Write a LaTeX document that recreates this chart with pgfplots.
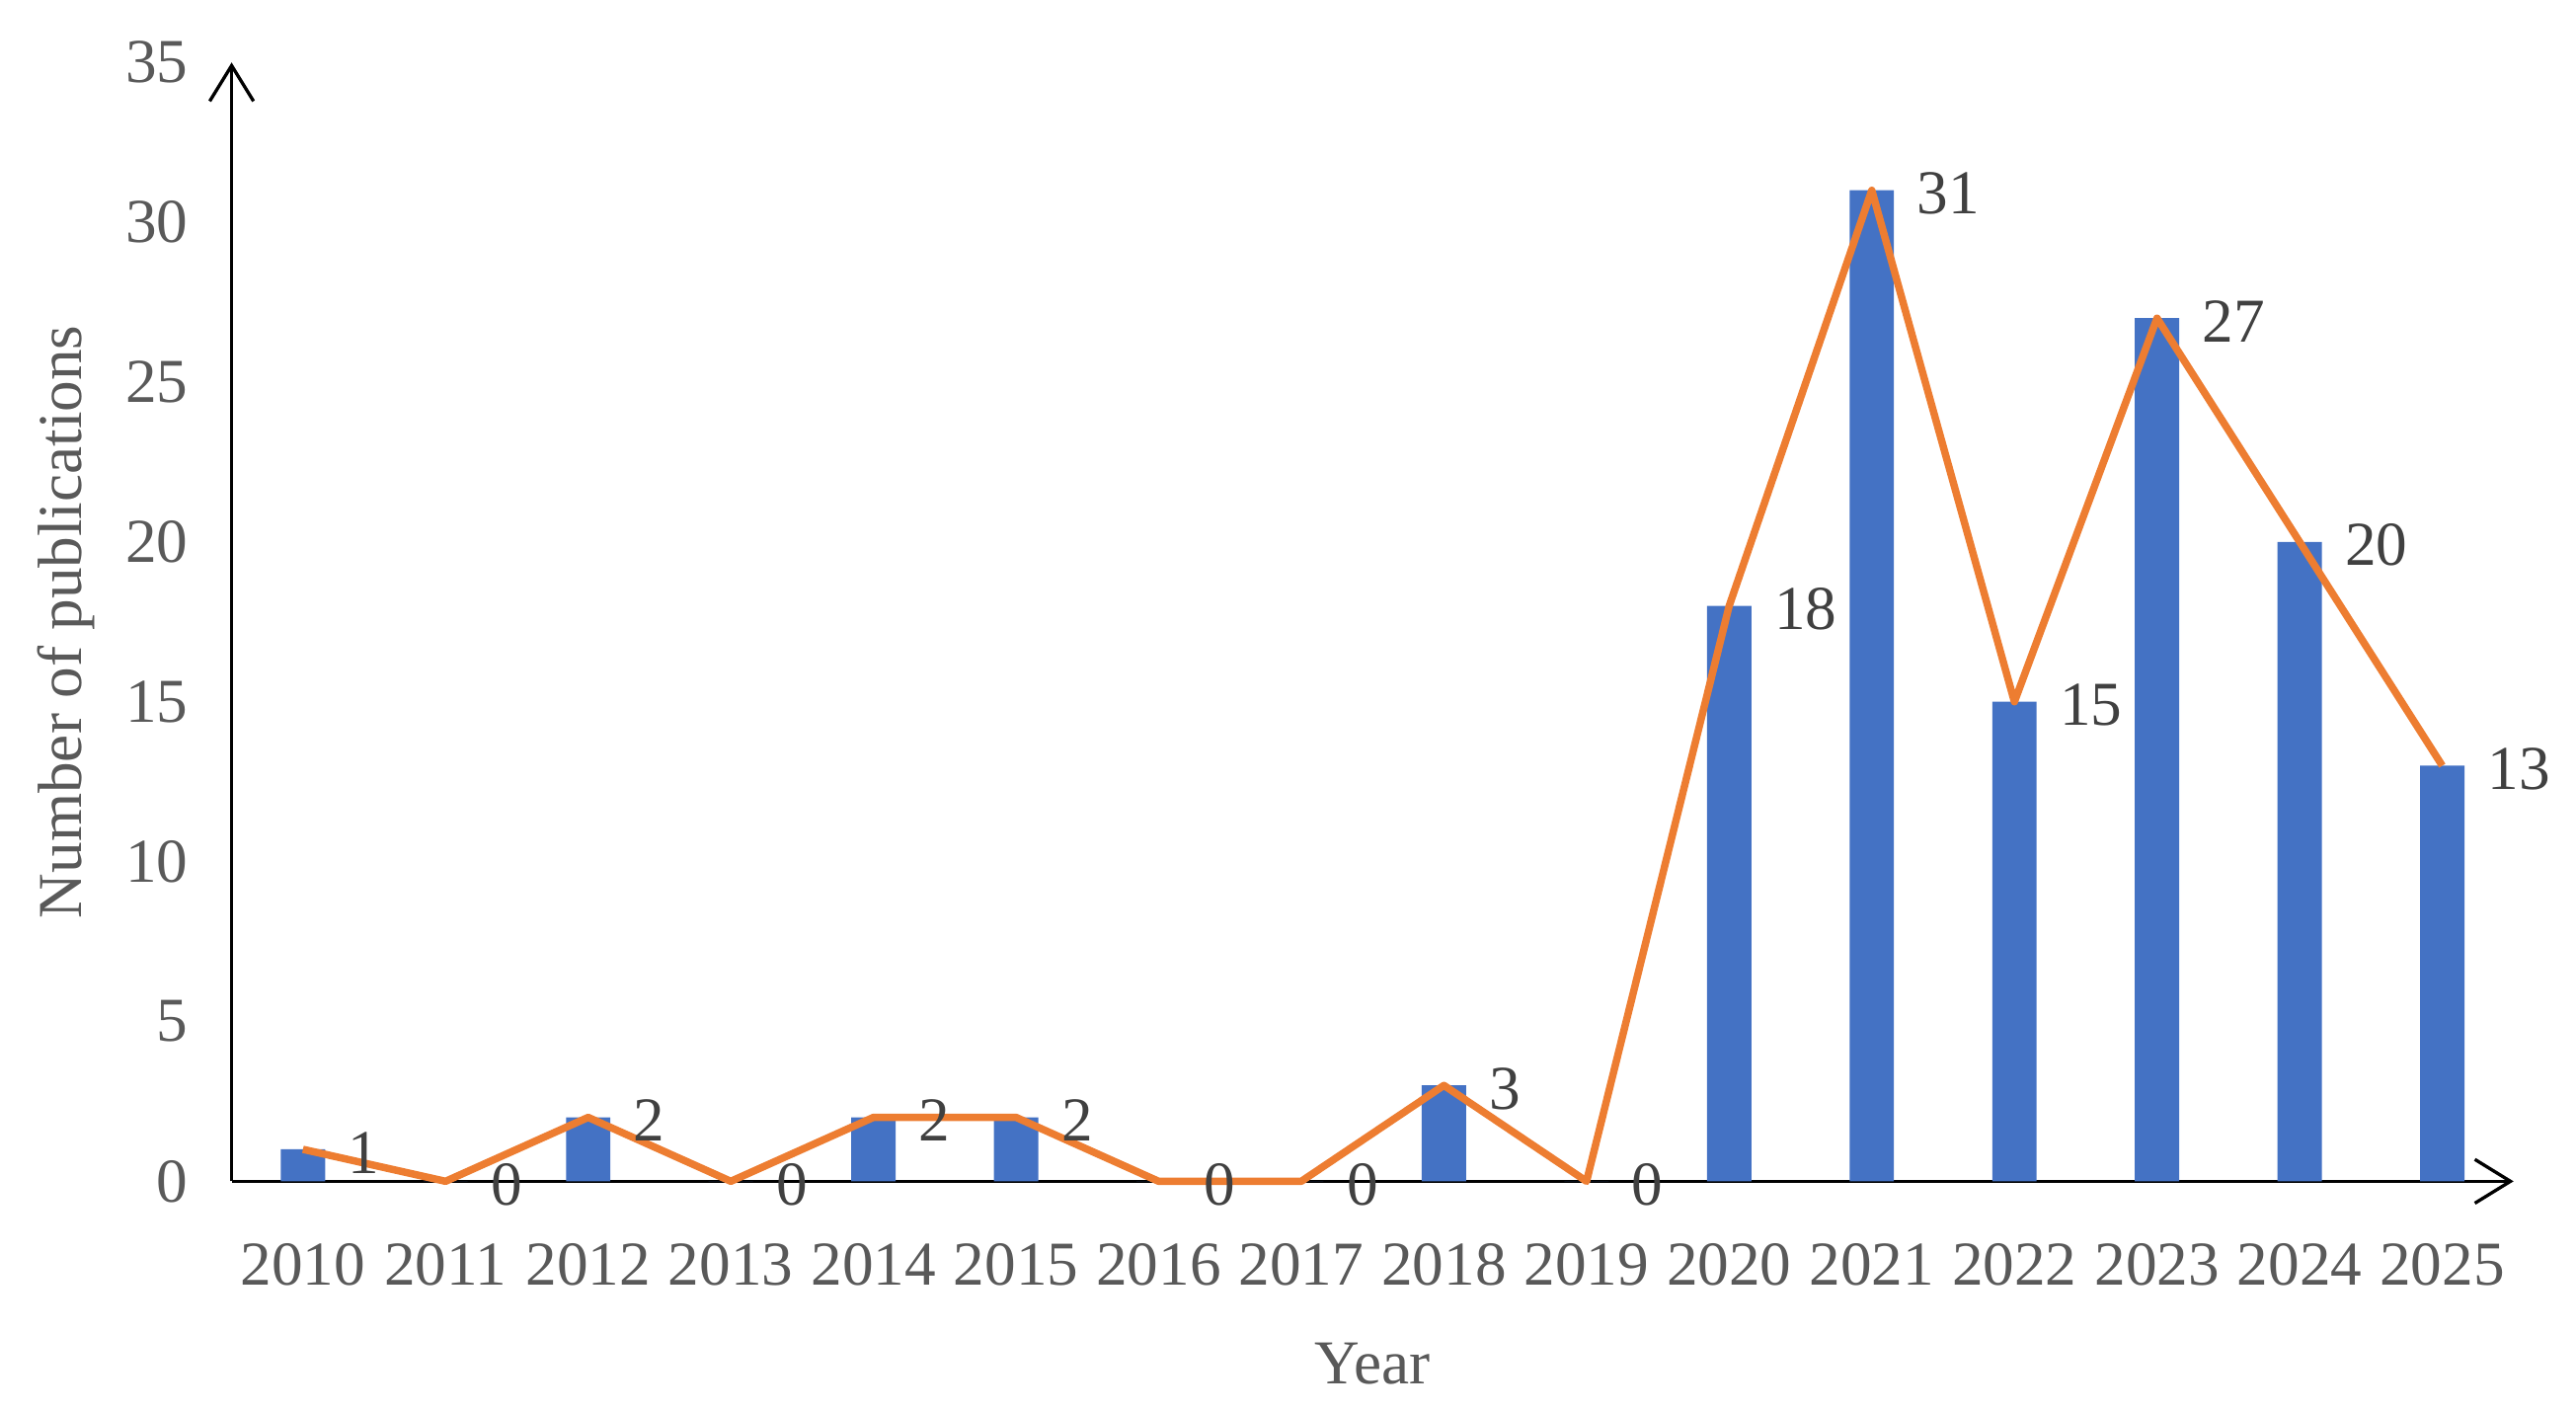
\documentclass[border=0pt]{standalone}
\usepackage{pgfplots}
\pgfplotsset{compat=1.18}
\usepackage{pgfplotstable}
\usepackage{fontspec}
\setmainfont{Liberation Serif}
\usetikzlibrary{arrows.meta}
\definecolor{barblue}{HTML}{4472C4}
\definecolor{lineorange}{HTML}{ED7D31}
\definecolor{ticktext}{HTML}{595959}
\definecolor{labeltext}{HTML}{404040}

% year index, publications
\pgfplotstableread{
x y
0 1
1 0
2 2
3 0
4 2
5 2
6 0
7 0
8 3
9 0
10 18
11 31
12 15
13 27
14 20
15 13
}\pubs

\begin{document}
\begin{tikzpicture}
\begin{axis}[
    scale only axis,
    width=416.7pt, height=204.3pt,
    at={(0,0)}, anchor=south west,
    xmin=-0.5, xmax=15.5, ymin=0, ymax=35,
    axis lines=left,
    axis line style={line width=0.6pt, -{Straight Barb[length=6.5pt,width=8pt,line width=0.6pt]}},
    major tick length=0pt,
    xtick={0,...,15},
    xticklabels={2010,2011,2012,2013,2014,2015,2016,2017,2018,2019,2020,2021,2022,2023,2024,2025},
    ytick={0,5,...,35},
    /pgf/number format/assume math mode=true,
    tick label style={font=\fontsize{11.4}{13.7}\selectfont, text=ticktext, inner sep=0pt},
    xticklabel style={anchor=center, yshift=-15.3pt},
    yticklabel style={anchor=east, xshift=-7.8pt},
    xlabel={Year},
    ylabel={Number of publications},
    every axis x label/.style={at={(axis description cs:0.5,-0.163)}, anchor=center,
        font=\fontsize{11.4}{13.7}\selectfont, text=ticktext, inner sep=0pt},
    every axis y label/.style={at={(axis description cs:-0.0727,0.5)}, rotate=90, anchor=center,
        font=\fontsize{11.4}{13.7}\selectfont, text=ticktext, inner sep=0pt},
    clip=false,
]
\addplot[ybar, bar width=8.1pt, bar shift=0pt, fill=barblue, draw=none]
    table[x=x, y=y] {\pubs};
\addplot[lineorange, line width=1.35pt, line join=round, mark=none]
    table[x=x, y=y] {\pubs};
\addplot[draw=none, mark=none,
    point meta=explicit symbolic,
    nodes near coords={\pgfplotspointmeta},
    every node near coord/.append style={anchor=west, inner sep=0pt,
        xshift=8.1pt, yshift=-0.6pt,
        font=\fontsize{11.4}{13.7}\selectfont, text=labeltext}]
    table[x=x, y=y, meta=y] {\pubs};
\end{axis}
\pgfresetboundingbox
\path (-42.3pt,-42pt) rectangle (428.1pt,215.7pt);
\end{tikzpicture}
\end{document}
